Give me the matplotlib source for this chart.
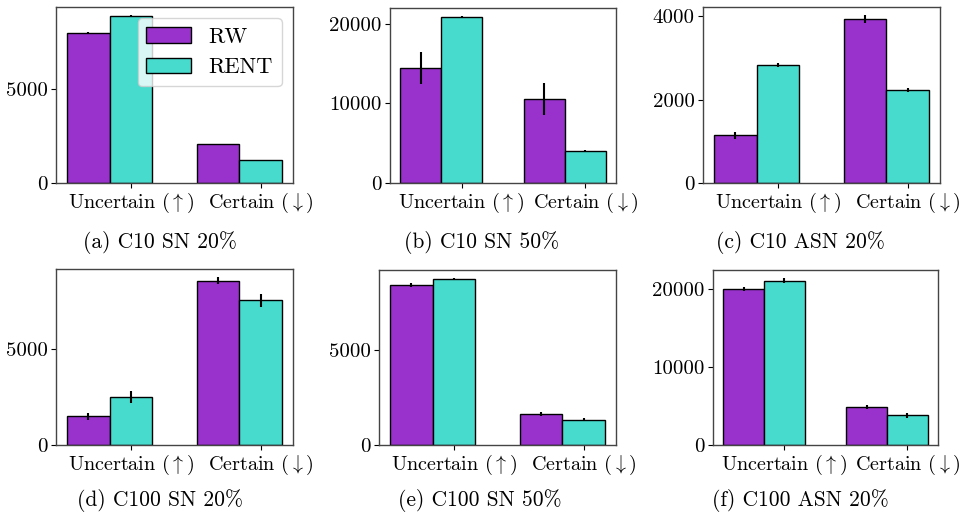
import numpy as np
import matplotlib
matplotlib.use("Agg")
import matplotlib.pyplot as plt

plt.rcParams['font.family'] = 'serif'
plt.rcParams['font.serif'] = ['cmr10', 'DejaVu Serif']
plt.rcParams['mathtext.fontset'] = 'cm'
plt.rcParams['axes.formatter.use_mathtext'] = True

categories = [r'Uncertain $(\uparrow)$', r'Certain $(\downarrow)$']
series_names = ['RW', 'RENT']
captions = ['(a) C10 SN 20%', '(b) C10 SN 50%', '(c) C10 ASN 20%',
            '(d) C100 SN 20%', '(e) C100 SN 50%', '(f) C100 ASN 20%']

rw_means = [[7970, 2070], [14450, 10530], [1140, 3930],
            [1490, 8550], [8390, 1630], [20000, 4870]]
rw_errs = [[20, 20], [2000, 2000], [90, 90],
           [190, 180], [100, 120], [250, 300]]
rent_means = [[8870, 1200], [20880, 4080], [2830, 2230],
              [2500, 7540], [8680, 1330], [21080, 3790]]
rent_errs = [[20, 10], [60, 60], [40, 40],
             [330, 340], [50, 60], [300, 300]]
yticks_list = [[0, 5000], [0, 10000, 20000], [0, 2000, 4000],
               [0, 5000], [0, 5000], [0, 10000, 20000]]

W, H = 959, 518
fig = plt.figure(figsize=(W / 100, H / 100), dpi=100)

# axes boxes in pixels: left, right, top, bottom
boxes = [(56, 293, 7, 183), (390, 616, 8, 183), (703, 940, 7, 183),
         (56, 293, 269, 445), (379, 616, 270, 445), (713, 938, 270, 445)]
cap_x = [160, 482, 800, 160, 480, 800]
cap_y = [242, 242, 242, 501, 501, 501]

c_rw = '#9932CC'
c_rent = '#46DBCC'
width = 0.33
x = np.arange(len(categories))

for i in range(6):
    l, r, t, b = boxes[i]
    ax = fig.add_axes([l / W, 1 - b / H, (r - l) / W, (b - t) / H])
    ax.bar(x - width, rw_means[i], width, yerr=rw_errs[i], color=c_rw,
           edgecolor='black', linewidth=1.0, label=series_names[0],
           error_kw=dict(ecolor='black', elinewidth=1.5, capsize=0))
    ax.bar(x, rent_means[i], width, yerr=rent_errs[i], color=c_rent,
           edgecolor='black', linewidth=1.0, label=series_names[1],
           error_kw=dict(ecolor='black', elinewidth=1.5, capsize=0))
    ax.set_xticks(x)
    ax.set_xticklabels(categories, fontsize=14.5)
    ax.set_yticks(yticks_list[i])
    ax.set_yticklabels([str(v) for v in yticks_list[i]], fontsize=15)
    ax.tick_params(axis='both', length=3.5, width=0.8, pad=2.5)
    for s in ax.spines.values():
        s.set_color('#444444')
        s.set_linewidth(1.0)
    fig.text(cap_x[i] / W, 1 - cap_y[i] / H, captions[i], ha='center',
             va='center', fontsize=15.5)
    if i == 0:
        ax.legend(loc='upper right', fontsize=16, framealpha=0.8,
                  fancybox=True, handlelength=2.0, borderpad=0.4,
                  labelspacing=0.5)

fig.savefig('out.png', dpi=100)
